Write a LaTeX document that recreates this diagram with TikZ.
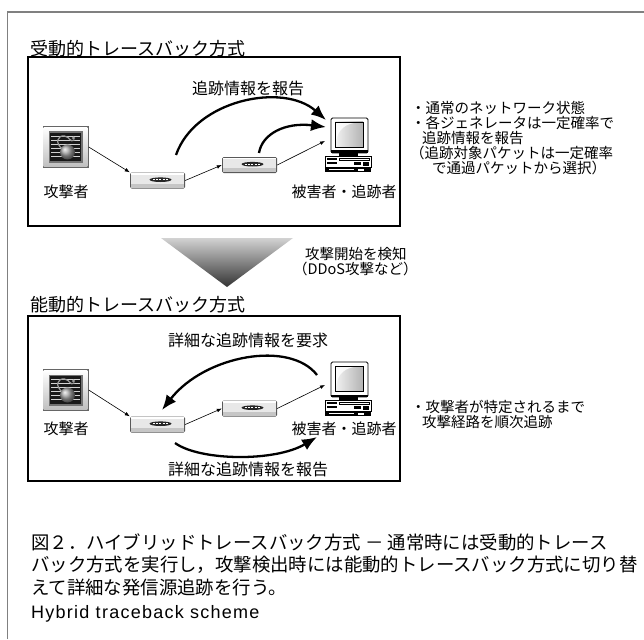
\documentclass[tikz,border=0pt]{standalone}
\usepackage{fontspec}
\setmainfont{Noto Sans CJK JP}
\newfontfamily\latinfont[LetterSpace=7]{Liberation Sans}
\usetikzlibrary{arrows.meta}

\tikzset{
  frameline/.style={draw=black!50, line width=1.6pt},
  panel/.style={draw=black, line width=1.1pt},
  headtext/.style={anchor=west, inner sep=0pt, font=\fontsize{18}{20}\selectfont},
  captext/.style={anchor=west, inner sep=0pt, font=\fontsize{18.4}{20}\selectfont},
  flowtext/.style={inner sep=0pt, font=\fontsize{16}{18}\selectfont},
  roletext/.style={inner sep=0pt, font=\fontsize{15}{18}\selectfont},
  notetext/.style={anchor=west, inner sep=0pt, font=\fontsize{14.5}{15}\selectfont},
  hop/.style={line width=0.6pt, -{Latex[length=5pt,width=3.8pt]}},
  bigarc/.style={line width=2.3pt, -{Latex[length=15pt,width=12pt]}},
  % framed picture of the attacker
  attacker/.pic={
    \node[inner sep=0pt, minimum width=46pt, minimum height=42pt] (-n) {};
    \fill[black!60] (-23,-21) rectangle (23,21);
    \shade[top color=white, bottom color=gray!50] (-21.8,-19.8) rectangle (21.8,19.8);
    \fill[black!55] (-17,-15.5) rectangle (17,15.5);
    \fill[black!90] (-15.8,-14.3) rectangle (15.8,14.3);
    \foreach \yy in {-11,-7,...,12}
      \draw[gray!35, line width=0.25pt] (-14.5,\yy) -- (14.5,\yy);
    \draw[gray!75, line width=1.2pt] (-3,2) .. controls (-11,-4) and (-8,-12) .. (-1,-11)
      .. controls (5,-10) and (4,-4) .. (9,-7);
    \fill[gray!80] (8,-9) circle (1.6);
    \shade[ball color=gray!70] (2,5) circle (7.5);
  },
  % network router / generator
  router/.pic={
    \node[inner sep=0pt, minimum width=55pt, minimum height=16pt] (-n) {};
    \fill[black!65, rounded corners=1.5pt] (-27.5,-8) rectangle (27.5,8);
    \fill[gray!18] (-26.6,-7.1) rectangle (26.6,3);
    \fill[white] (-26.6,-7.1) rectangle (26.6,-5.6);
    \fill[gray!45] (-26.6,3) rectangle (26.6,7.1);
    \fill[black!85] (3,-0.8) ellipse (11 and 2.3);
    \draw[white, line width=0.5pt, dash pattern=on 2pt off 1.4pt] (-5,-0.8) -- (11,-0.8);
  },
  % desktop computer of the victim / tracer
  computer/.pic={
    \node[inner sep=0pt, minimum width=46pt, minimum height=55pt] (-n) {};
    \coordinate (-a1) at (-22,-25);
    \coordinate (-a2) at (-22,-18);
    \coordinate (-in) at (-23,-4);
    \coordinate (-out) at (-31,-14);
    \coordinate (-rep) at (-31,48);
    \draw[line width=0.8pt, fill=white, rounded corners=1.5pt] (-17,-27) rectangle (20,8);
    \shade[left color=gray!10, right color=gray!60] (-13,-23) rectangle (15,2);
    \fill[white, opacity=0.8] (-12,1) .. controls (-12,-12) and (-6,-20) .. (6,-22) -- (-12,-22) -- cycle;
    \draw[line width=0.6pt] (-13,-23) rectangle (15,2);
    \fill (-17,5.5) rectangle (20,8);
    \fill (-9,8) rectangle (10,11.5);
    \draw[line width=0.7pt, fill=white] (-23,11.5) rectangle (23,22);
    \fill (-21,13.3) rectangle (-11,15.2);
    \fill (-21,17) rectangle (-11,19);
    \draw[line width=0.5pt] (-9,13.3) rectangle (21,15.2);
    \fill (6,17) rectangle (13,20);
    \fill (15,16.5) rectangle (21,20.5);
    \fill (-23,22) rectangle (23,27);
    \draw[white, line width=0.5pt] (-19,24.5) -- (6,24.5);
    \fill[white] (10,23.5) rectangle (16,25.5);
  },
}

\begin{document}
\begin{tikzpicture}[x=1pt, y=-1pt]
  \useasboundingbox (0,0) rectangle (644,639);
  \fill[white] (0,0) rectangle (644,639);

  % outer frame (top and left edges)
  \draw[frameline] (7.5,639) -- (7.5,12) -- (644,12);

  % ---------------- passive traceback ----------------
  \node[headtext] (head1) at (30,49) {受動的トレースバック方式};
  \draw[panel] (28,57) rectangle (400,226);
  \node[flowtext] (flow1) at (248,88) {追跡情報を報告};

  \pic (att1) at (65.5,147) {attacker};
  \pic (ra1) at (157.5,180.5) {router};
  \pic (rb1) at (249.5,165) {router};
  \pic (pc1) at (348,145) {computer};
  \node[roletext] (who1) at (66,192) {攻撃者};
  \node[roletext] (vic1) at (344,192) {被害者・追跡者};

  \draw[hop] (att1-n.east) -- (ra1-n.north west);
  \draw[hop] (ra1-n.east) -- (rb1-n.west);
  \draw[hop] (rb1-n.east) -- (pc1-in);

  \coordinate (s1) at (176,155);
  \coordinate (s2) at (259,153);
  \draw[bigarc] (s1) .. controls (195,100) and (283,82) .. (pc1-a1);
  \draw[bigarc] (s2) .. controls (262,134) and (285,122) .. (pc1-a2);

  \node[notetext] (n11) at (411,108) {・通常のネットワーク状態};
  \node[notetext] (n12) at (411,123) {・各ジェネレータは一定確率で};
  \node[notetext] (n13) at (422,138) {追跡情報を報告};
  \node[notetext] (n14) at (410,153) {（追跡対象パケットは一定確率};
  \node[notetext] (n15) at (432,168) {で通過パケットから選択）};

  % ---------------- transition ----------------
  \shade[top color=gray!35, bottom color=black!80] (161,238) -- (293,238) -- (227,287) -- cycle;
  \node[notetext] (trig1) at (305,254) {攻撃開始を検知};
  \node[notetext] (trig2) at (293,269) {（DDoS攻撃など）};

  % ---------------- active traceback ----------------
  \node[headtext] (head2) at (30,305) {能動的トレースバック方式};
  \draw[panel] (28,316) rectangle (400,481);
  \node[flowtext] (flow2) at (248,340) {詳細な追跡情報を要求};
  \node[flowtext] (flow3) at (248,469) {詳細な追跡情報を報告};

  \pic (att2) at (65.5,390) {attacker};
  \pic (ra2) at (157.5,424.5) {router};
  \pic (rb2) at (249.5,408.5) {router};
  \pic (pc2) at (348,389) {computer};
  \node[roletext] (who2) at (66,429) {攻撃者};
  \node[roletext] (vic2) at (344,429) {被害者・追跡者};

  \draw[hop] (att2-n.east) -- (ra2-n.north west);
  \draw[hop] (ra2-n.east) -- (rb2-n.west);
  \draw[hop] (rb2-n.east) -- (pc2-in);

  \coordinate (q1) at (162,410);
  \coordinate (s3) at (175,443);
  \draw[bigarc] (pc2-out) .. controls (290,340) and (205,355) .. (q1);
  \draw[bigarc] (s3) .. controls (200,461) and (275,462) .. (pc2-rep);

  \node[notetext] (n21) at (411,407) {・攻撃者が特定されるまで};
  \node[notetext] (n22) at (422,422) {攻撃経路を順次追跡};

  % ---------------- caption ----------------
  \node[captext] (cap1) at (31,542) {図２．ハイブリッドトレースバック方式 － 通常時には受動的トレース};
  \node[captext] (cap2) at (31,565) {バック方式を実行し，攻撃検出時には能動的トレースバック方式に切り替};
  \node[captext] (cap3) at (31,588) {えて詳細な発信源追跡を行う。};
  \node[anchor=west, inner sep=0pt, font=\latinfont\fontsize{18}{20}\selectfont] (cap4) at (31,614) {Hybrid traceback scheme};
\end{tikzpicture}
\end{document}
